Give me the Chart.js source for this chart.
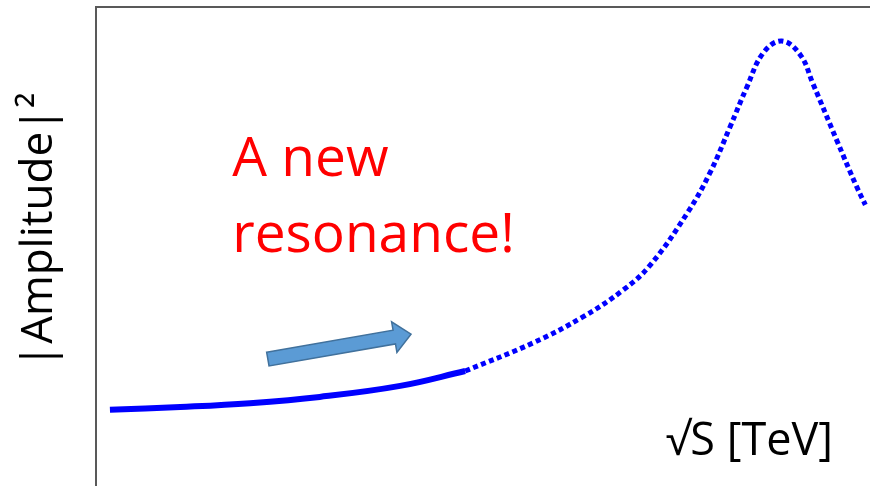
<!DOCTYPE html>
<html>
<head>
<meta charset="utf-8">
<script src="https://cdn.jsdelivr.net/npm/chart.js@4.4.1/dist/chart.umd.min.js"></script>
<style>
  html, body { margin: 0; padding: 0; background: #fff; }
  #wrap { width: 870px; height: 486px; }
</style>
</head>
<body>
<div id="wrap"><canvas id="resonance" width="870" height="486"></canvas></div>
<script>
// values, arbitrary units on both axes (0..10)
const measuredX = [0.18, 1.09, 1.99, 2.89, 3.93, 4.77];
const measuredY = [1.59, 1.65, 1.73, 1.86, 2.09, 2.40];
const predictedX = [4.77, 5.65, 6.29, 6.81, 7.16, 7.64, 7.93, 8.19, 8.41, 8.62, 8.86, 9.10, 9.26, 9.57, 9.83, 9.94];
const predictedY = [2.40, 2.99, 3.53, 4.09, 4.61, 5.70, 6.53, 7.49, 8.33, 9.04, 9.29, 9.00, 8.41, 7.22, 6.24, 5.87];
const arrowFrom = [2.22, 2.65];
const arrowTo = [4.07, 3.17];
const xTitle = '√S [TeV]';
const yTitle = '|Amplitude|²';
const noteLines = ['A new', 'resonance!'];

const toPoints = (xs, ys) => xs.map((x, i) => ({ x: x, y: ys[i] }));

const sketchNotes = {
  id: 'sketchNotes',
  afterDatasetsDraw(chart) {
    const { ctx, chartArea } = chart;
    const xs = chart.scales.x;
    const ys = chart.scales.y;

    // the blue arrow
    const x0 = xs.getPixelForValue(arrowFrom[0]), y0 = ys.getPixelForValue(arrowFrom[1]);
    const x1 = xs.getPixelForValue(arrowTo[0]), y1 = ys.getPixelForValue(arrowTo[1]);
    const len = Math.hypot(x1 - x0, y1 - y0);
    const shaft = 7, headLen = 17, headHalf = 15.5;
    ctx.save();
    ctx.translate(x0, y0);
    ctx.rotate(Math.atan2(y1 - y0, x1 - x0));
    ctx.beginPath();
    ctx.moveTo(0, -shaft);
    ctx.lineTo(len - headLen, -shaft);
    ctx.lineTo(len - headLen, -headHalf);
    ctx.lineTo(len, 0);
    ctx.lineTo(len - headLen, headHalf);
    ctx.lineTo(len - headLen, shaft);
    ctx.lineTo(0, shaft);
    ctx.closePath();
    ctx.fillStyle = '#5b9bd5';
    ctx.fill();
    ctx.lineWidth = 1.5;
    ctx.strokeStyle = '#41719c';
    ctx.stroke();
    ctx.restore();

    // red note
    ctx.save();
    ctx.fillStyle = '#ff0000';
    ctx.font = '55px "Open Sans"';
    ctx.textAlign = 'left';
    ctx.textBaseline = 'alphabetic';
    const nx = xs.getPixelForValue(1.76), ny = ys.getPixelForValue(6.47);
    noteLines.forEach((t, i) => ctx.fillText(t, nx, ny + i * 76));
    ctx.restore();

    // axis titles
    ctx.save();
    ctx.fillStyle = '#000';
    ctx.font = '45px "Open Sans"';
    ctx.textAlign = 'left';
    ctx.fillText(xTitle, xs.getPixelForValue(7.36), ys.getPixelForValue(0.65));
    ctx.font = '44px "Open Sans"';
    ctx.translate(chartArea.left - 44, ys.getPixelForValue(5.34));
    ctx.rotate(-Math.PI / 2);
    ctx.textAlign = 'center';
    ctx.fillText(yTitle, 0, 0);
    ctx.restore();
  }
};

const hiddenAxis = {
  type: 'linear',
  min: 0,
  max: 10,
  ticks: { display: false },
  grid: { display: false, drawTicks: false },
  border: { display: true, color: '#595959', width: 2 }
};

new Chart(document.getElementById('resonance'), {
  type: 'line',
  data: {
    datasets: [{
      data: toPoints(measuredX, measuredY),
      borderColor: '#0000ff',
      borderWidth: 6,
      pointRadius: 0,
      tension: 0.4
    }, {
      data: toPoints(predictedX, predictedY),
      borderColor: '#0000ff',
      borderWidth: 5,
      borderDash: [5, 3.5],
      pointRadius: 0,
      tension: 0.4
    }]
  },
  options: {
    responsive: false,
    animation: false,
    events: [],
    layout: { padding: { left: 96, top: 7, right: 0, bottom: 0 } },
    plugins: { legend: { display: false }, tooltip: { enabled: false } },
    scales: {
      x: { type: 'linear', min: 0, max: 10, display: false },
      y: Object.assign({}, hiddenAxis, { position: 'left' }),
      top: Object.assign({}, hiddenAxis, { position: 'top', axis: 'x' })
    }
  },
  plugins: [sketchNotes]
});
</script>
</body>
</html>
